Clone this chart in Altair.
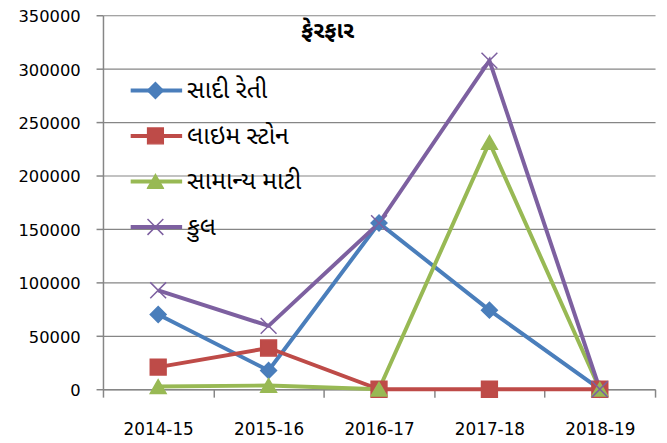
import altair as alt
import pandas as pd

years = ["2014-15", "2015-16", "2016-17", "2017-18", "2018-19"]
series_names = ["સાદી રેતી", "લાઇમ સ્ટોન", "સામાન્ય માટી", "કુલ"]
sadi_reti = [70000, 17500, 155500, 74000, 0]
lime_stone = [20700, 38600, 0, 0, 0]
samanya_mati = [2500, 3500, 0, 231000, 0]
kul = [92600, 59300, 155500, 307500, 0]
y_ticks = [0, 50000, 100000, 150000, 200000, 250000, 300000, 350000]
title_text = "ફેરફાર"

colors = ["#4A7EBB", "#BE4B48", "#98B954", "#7D60A0"]
shapes = ["diamond", "square", "triangle-up", "M-1,-1L1,1M-1,1L1,-1"]

rows = []
for name, vals in zip(series_names, [sadi_reti, lime_stone, samanya_mati, kul]):
    for yr, v in zip(years, vals):
        rows.append({"year": yr, "series": name, "series_m": name, "value": v})
df = pd.DataFrame(rows)

GU = "Noto Sans Gujarati, Lohit Gujarati, Noto Sans, sans-serif"
AX = "DejaVu Sans"
GRAY = "#868686"

x_enc = alt.X(
    "year:N",
    sort=years,
    scale=alt.Scale(type="band", paddingInner=0, paddingOuter=0),
    bandPosition=0.5,
    axis=alt.Axis(
        title=None, labelAngle=0, tickBand="extent", grid=False,
        domainColor=GRAY, domainWidth=1.5, tickColor=GRAY, tickWidth=1.5,
        tickSize=8, labelFont=AX, labelFontSize=17, labelColor="#000000",
        labelPadding=25,
    ),
)
y_enc = alt.Y(
    "value:Q",
    scale=alt.Scale(domain=[0, 350000], nice=False),
    axis=alt.Axis(
        title=None, values=y_ticks, format="d", grid=True, gridColor=GRAY,
        gridWidth=1.2, domainColor=GRAY, domainWidth=1.5, tickColor=GRAY,
        tickWidth=1.5, tickSize=7, labelFont=AX, labelFontSize=16.5,
        labelColor="#000000", labelPadding=16, labelOffset=1.5,
    ),
)

line_legend = alt.Legend(
    title=None, orient="none", legendX=26, legendY=53, symbolType="stroke",
    symbolSize=2704, symbolStrokeWidth=4, labelFont=GU, labelFontSize=25,
    labelColor="#000000", clipHeight=46, rowPadding=0, padding=0,
    labelOffset=3, zindex=1,
)
point_legend = alt.Legend(
    title=None, orient="none", legendX=44, legendY=53, symbolSize=256,
    symbolStrokeWidth=1.5, labelExpr="''", labelFontSize=1,
    clipHeight=46, rowPadding=0, padding=0, labelOffset=0, zindex=2,
)

lines = alt.Chart(df).mark_line(strokeWidth=4).encode(
    x=x_enc,
    y=y_enc,
    color=alt.Color("series:N", scale=alt.Scale(domain=series_names, range=colors),
                    legend=line_legend),
)

points = alt.Chart(df).mark_point(filled=True, size=256, strokeWidth=1.5, opacity=1).encode(
    x=x_enc,
    y=y_enc,
    fill=alt.Fill("series_m:N", scale=alt.Scale(domain=series_names, range=colors),
                  legend=point_legend),
    stroke=alt.Stroke("series_m:N", scale=alt.Scale(domain=series_names, range=colors),
                      legend=point_legend),
    shape=alt.Shape("series_m:N", scale=alt.Scale(domain=series_names, range=shapes),
                    legend=point_legend),
)

chart = alt.layer(lines, points).resolve_scale(color="independent").properties(
    width=558,
    height=378,
    autosize=alt.AutoSizeParams(type="none"),
    padding={"left": 96, "top": 5, "right": 4, "bottom": 50},
    title=alt.Title(title_text, font=GU, fontSize=23, fontWeight="bold",
                    color="#000000", anchor="middle", dx=-52, offset=-34),
).configure_view(stroke=None)

chart.save("out.html", embed_options={"renderer": "svg", "actions": False})
